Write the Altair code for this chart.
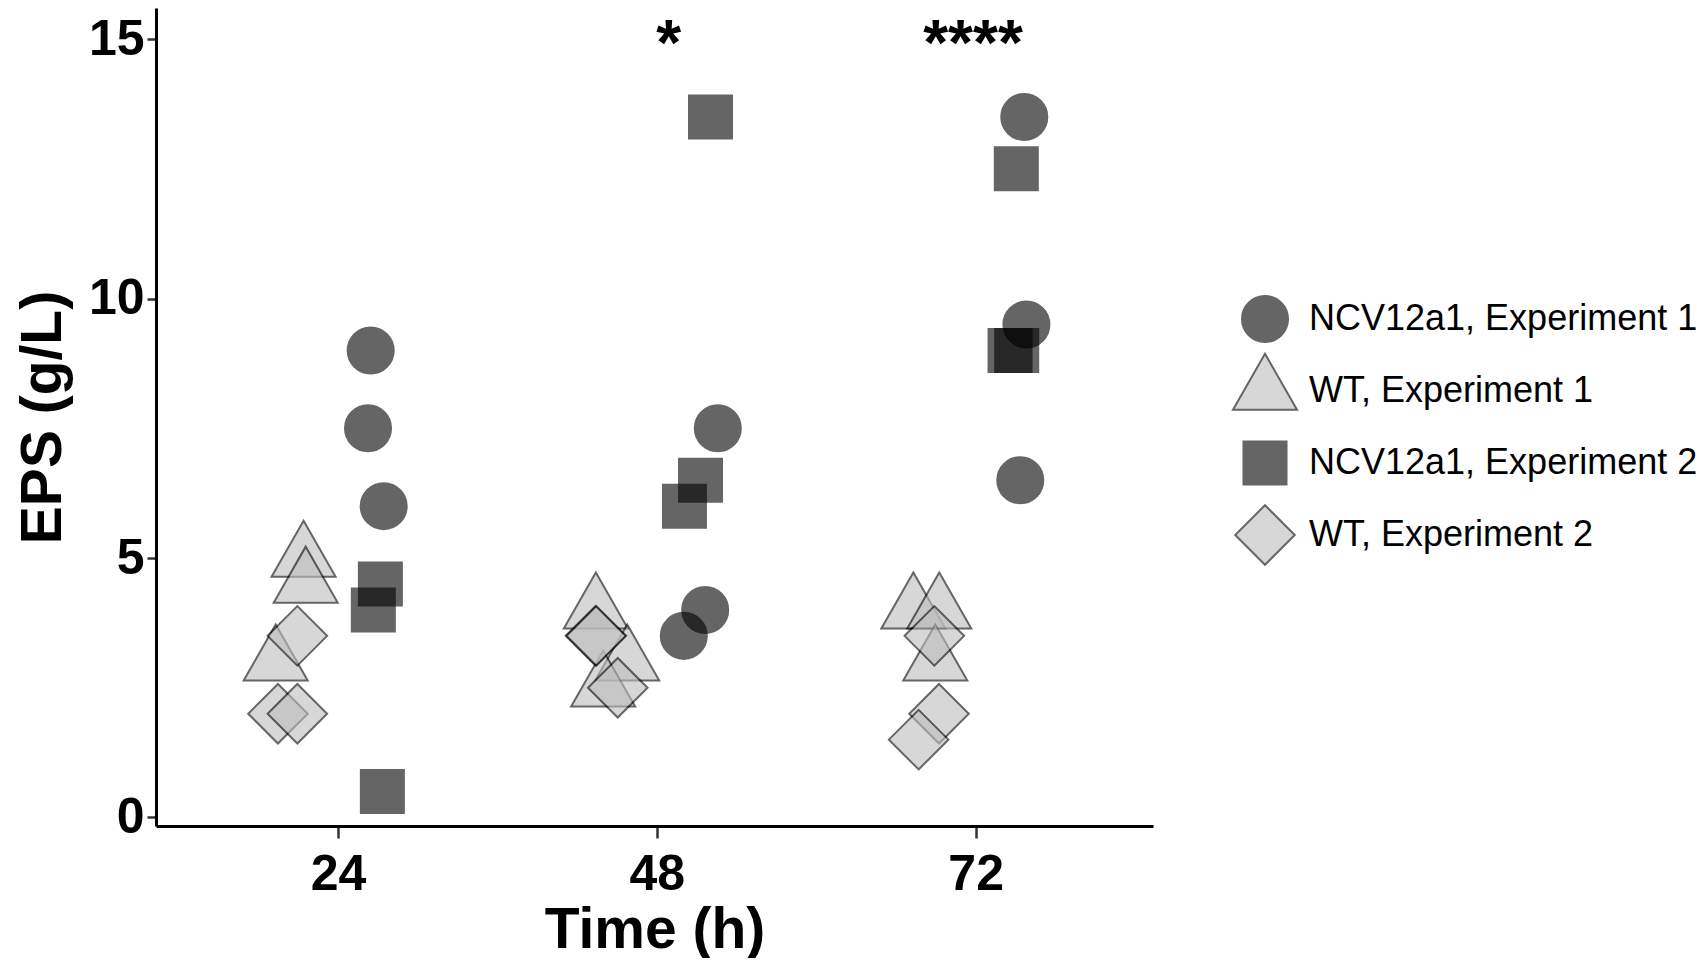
import altair as alt
import pandas as pd

groups = ["NCV12a1, Experiment 1", "WT, Experiment 1", "NCV12a1, Experiment 2", "WT, Experiment 2"]
group_fill = ["black", "#bebebe", "black", "#bebebe"]
group_stroke = ["black", "black", "black", "black"]
# custom symbol paths (unit = sqrt(size)/2)
group_shape = [
    "M-0.719,0A0.719,0.719,0,1,1,0.719,0A0.719,0.719,0,1,1,-0.719,0Z",
    "M0,-1.167L1,0.583L-1,0.583Z",
    "M-0.672,-0.672L0.672,-0.672L0.672,0.672L-0.672,0.672Z",
    "M0,-0.93L0.93,0L0,0.93L-0.93,0Z",
]

times = [24, 24, 24, 48, 48, 48, 72, 72, 72]

ncv1_eps = [9.0, 7.5, 6.0, 7.5, 4.0, 3.5, 13.5, 9.5, 6.5]
ncv1_jitter = [2.46, 2.26, 3.44, 4.59, 3.64, 2.03, 3.66, 3.82, 3.36]

wt1_eps = [5.0, 4.5, 3.0, 4.0, 3.0, 2.5, 4.0, 4.0, 3.0]
wt1_jitter = [-2.59, -2.43, -4.69, -4.59, -2.23, -4.04, -4.69, -2.74, -3.04]

ncv2_eps = [4.5, 4.0, 0.5, 13.5, 6.5, 6.0, 12.5, 9.0, 9.0]
ncv2_jitter = [3.19, 2.66, 3.34, 4.04, 3.29, 2.08, 3.06, 2.59, 3.09]

wt2_eps = [3.5, 2.0, 2.0, 3.5, 3.5, 2.5, 3.5, 2.0, 1.5]
wt2_jitter = [-3.06, -4.52, -3.06, -4.62, -4.55, -2.94, -3.11, -2.76, -4.29]

star_time = [48.9, 71.8]
star_eps = [14.5, 14.5]
star_text = ["*", "****"]

rows = []
for g, eps, jit in [
    (groups[0], ncv1_eps, ncv1_jitter),
    (groups[1], wt1_eps, wt1_jitter),
    (groups[2], ncv2_eps, ncv2_jitter),
    (groups[3], wt2_eps, wt2_jitter),
]:
    for t, e, j in zip(times, eps, jit):
        rows.append({"time": t, "eps": e, "jitter": j, "group": g})
df = pd.DataFrame(rows)
stars = pd.DataFrame({"time": star_time, "eps": star_eps, "label": star_text})

FONT = "Liberation Sans"
x_scale = alt.Scale(domain=[10.3, 85.35], nice=False, zero=False)
y_scale = alt.Scale(domain=[-0.164, 15.6], nice=False, zero=False)
x_axis = alt.Axis(values=[24, 48, 72], title="Time (h)", labelFontSize=50, tickSize=12,
                  labelPadding=51, labelBaseline="alphabetic", titleX=498.5, titleY=121,
                  titleBaseline="alphabetic", titleAlign="center")
y_axis = alt.Axis(values=[0, 5, 10, 15], title="EPS (g/L)", labelFontSize=50, tickSize=9,
                  labelPadding=3, titleX=-96, titleY=409, titleAngle=-90,
                  titleBaseline="alphabetic", titleAlign="center")

legend = alt.Legend(title=None, orient="none", legendX=1076, legendY=278, symbolSize=4096,
                    labelFontSize=36, labelFont=FONT, labelColor="black", rowPadding=-4,
                    labelOffset=11, symbolOpacity=0.6, symbolStrokeWidth=2,
                    labelLimit=0, gridAlign="all", padding=0)

points = alt.Chart(df).transform_calculate(
    xpos="datum.time + datum.jitter"
).mark_point(filled=True, opacity=0.6, strokeWidth=2, size=4096).encode(
    x=alt.X("xpos:Q", scale=x_scale, axis=x_axis),
    y=alt.Y("eps:Q", scale=y_scale, axis=y_axis),
    shape=alt.Shape("group:N", scale=alt.Scale(domain=groups, range=group_shape), legend=legend),
    fill=alt.Fill("group:N", scale=alt.Scale(domain=groups, range=group_fill), legend=legend),
    stroke=alt.Stroke("group:N", scale=alt.Scale(domain=groups, range=group_stroke), legend=legend),
)

text = alt.Chart(stars).mark_text(font=FONT, fontWeight="bold", fontSize=64,
                                  baseline="alphabetic", align="center", color="black").encode(
    x=alt.X("time:Q", scale=x_scale, axis=x_axis),
    y=alt.Y("eps:Q", scale=y_scale, axis=y_axis),
    text="label:N",
)

chart = alt.layer(points, text).properties(
    width=997, height=818,
    autosize=alt.AutoSizeParams(type="none"),
    padding={"left": 148, "top": 0, "right": 545, "bottom": 132},
).configure_view(stroke=None).configure_axis(
    grid=False, domainColor="black", domainWidth=3, tickColor="#333333", tickWidth=2.5,
    labelColor="black", labelFont=FONT, labelFontWeight="bold",
    titleFont=FONT, titleFontWeight="bold", titleFontSize=57, titleColor="black",
)

chart.save("out.html", embed_options={"renderer": "svg", "actions": False})
